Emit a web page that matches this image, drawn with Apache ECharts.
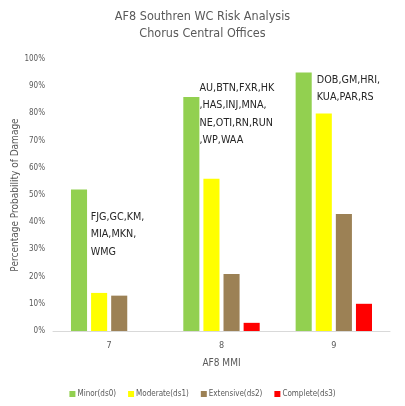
<!DOCTYPE html>
<html><head><meta charset="utf-8">
<script src="https://cdn.jsdelivr.net/npm/echarts@6/dist/echarts.min.js"></script>
<style>html,body{margin:0;padding:0;background:#fff}#c{width:405px;height:406px}</style>
</head><body><div id="c"></div>
<script>
const categories = ['7', '8', '9'];
const minor = [52, 86, 95];
const moderate = [14, 56, 80];
const extensive = [13, 21, 43];
const complete = [0, 3, 10];
const seriesNames = ['Minor(ds0)', 'Moderate(ds1)', 'Extensive(ds2)', 'Complete(ds3)'];
const yTicks = [0, 10, 20, 30, 40, 50, 60, 70, 80, 90, 100];
const notes = ['FJG,GC,KM,\nMIA,MKN,\nWMG', 'AU,BTN,FXR,HK\n,HAS,INJ,MNA,\nNE,OTI,RN,RUN\n,WP,WAA', 'DOB,GM,HRI,\nKUA,PAR,RS'];

const FONT = "'Liberation Sans Narrow','DejaVu Sans Condensed','Liberation Sans',sans-serif";
const colors = ['#92d050', '#ffff00', '#9c8155', '#ff0000'];
const chart = echarts.init(document.getElementById('c'));
const vals = [minor, moderate, extensive, complete];
chart.setOption({
  animation: false,
  textStyle: { fontFamily: FONT },
  title: {
    text: 'AF8 Southren WC Risk Analysis\nChorus Central Offices',
    left: 'center', top: 3,
    textStyle: { fontFamily: FONT, fontSize: 12.5, fontWeight: 'normal', color: '#595959', lineHeight: 17 }
  },
  grid: { left: 53, right: 15, top: 59, bottom: 75, outerBoundsMode: 'none', containLabel: false },
  legend: {
    bottom: 3, left: 'center', itemWidth: 6, itemHeight: 6, itemGap: 12,
    icon: 'rect',
    textStyle: { fontFamily: FONT, fontSize: 8, color: '#595959', padding: [0, 0, 0, -3] },
    data: seriesNames
  },
  xAxis: {
    type: 'category', data: categories,
    name: 'AF8 MMI', nameLocation: 'middle', nameGap: 27,
    nameTextStyle: { fontFamily: FONT, fontSize: 10, color: '#595959' },
    axisLine: { lineStyle: { color: '#d9d9d9' } },
    axisTick: { show: false },
    axisLabel: { fontSize: 9, color: '#595959', margin: 10 }
  },
  yAxis: {
    type: 'value', min: 0, max: 100, interval: 10,
    name: 'Percentage Probability of Damage', nameLocation: 'middle', nameGap: 33,
    nameMoveOverlap: false,
    nameTextStyle: { fontFamily: FONT, fontSize: 10, color: '#595959' },
    axisLine: { show: false }, axisTick: { show: false },
    splitLine: { show: false },
    axisLabel: { fontSize: 8, color: '#595959', margin: 8, formatter: v => yTicks.includes(v) ? v + '%' : '' }
  },
  series: seriesNames.map((n, i) => ({
    name: n, type: 'bar', data: vals[i],
    barGap: '25%', barCategoryGap: '32%',
    itemStyle: { color: colors[i] }
  })),
  graphic: []
});
// annotations placed relative to data positions
function place() {
  const anchors = [[0, 45.2], [1, 92.5], [2, 95.5]];
  const offs = [[-18.5, 0], [-22, 0], [-17, 0]];
  const g = notes.map((t, i) => {
    const p = chart.convertToPixel({ gridIndex: 0 }, [anchors[i][0], anchors[i][1]]);
    return {
      type: 'text', left: p[0] + offs[i][0], top: p[1],
      style: { text: t, fontFamily: FONT, fontSize: 10.7, fill: '#262626', lineHeight: 17.5 }
    };
  });
  chart.setOption({ graphic: g });
}
place();
</script></body></html>
